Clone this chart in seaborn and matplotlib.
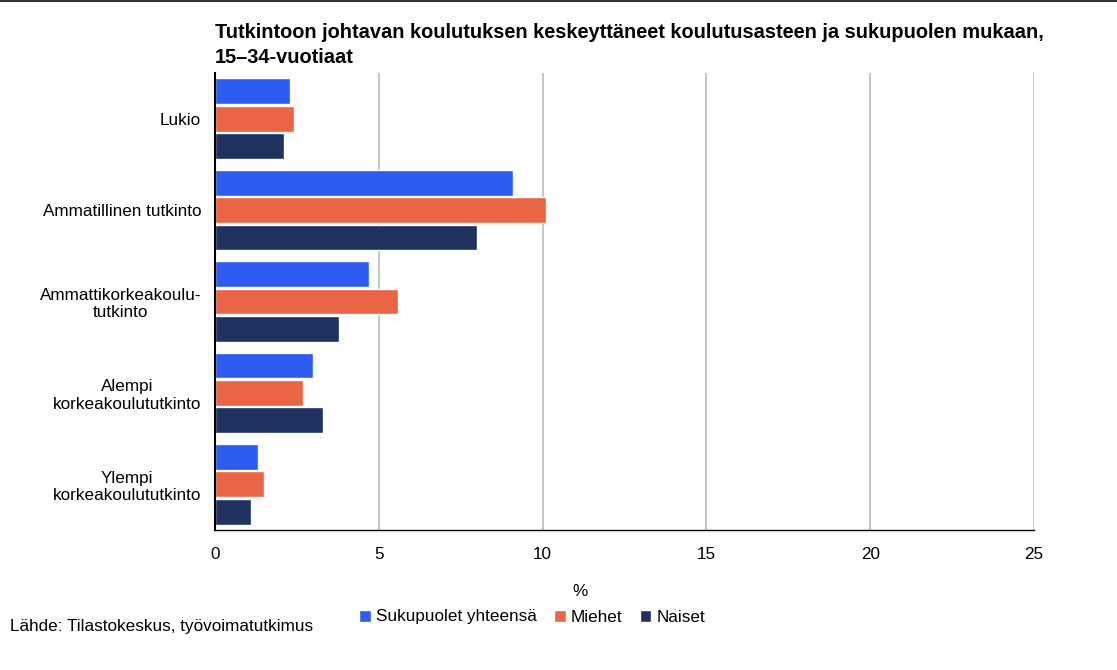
import pandas as pd
import numpy as np
import seaborn as sns
import matplotlib.pyplot as plt
from matplotlib.lines import Line2D

categories = ['Lukio', 'Ammatillinen tutkinto', 'Ammattikorkeakoulu-\ntutkinto',
              'Alempi\nkorkeakoulututkinto', 'Ylempi\nkorkeakoulututkinto']
series = ['Sukupuolet yhteensä', 'Miehet', 'Naiset']
total = [2.3, 9.1, 4.7, 3.0, 1.3]
men = [2.4, 10.1, 5.6, 2.7, 1.5]
women = [2.1, 8.0, 3.8, 3.3, 1.1]
colors = ['#2F5CF0', '#E96545', '#1F315F']

df = pd.DataFrame({'Koulutus': categories * 3,
                   'Sukupuoli': np.repeat(series, len(categories)),
                   'Osuus': total + men + women})

sns.set_theme(style='white')
plt.rcParams['font.family'] = ['Liberation Sans', 'DejaVu Sans']
plt.rcParams['text.color'] = 'black'

fig = plt.figure(figsize=(11.17, 6.70), dpi=100)
ax = fig.add_axes([215 / 1117, 1 - 530 / 670, (1034 - 215) / 1117, (530 - 73) / 670])

sns.barplot(data=df, y='Koulutus', x='Osuus', hue='Sukupuoli', order=categories,
            hue_order=series, palette=colors, saturation=1, width=0.9, gap=0.06,
            ax=ax, orient='h', legend=True)

ax.set_xlim(0, 25)
ax.set_xticks([0, 5, 10, 15, 20, 25])
ax.xaxis.grid(True, color='#bbbbbb', linewidth=1.2)
ax.set_axisbelow(True)
for s in ['top', 'right']:
    ax.spines[s].set_visible(False)
for s in ['left', 'bottom']:
    ax.spines[s].set_color('black')
ax.spines['left'].set_linewidth(1.5)
ax.spines['bottom'].set_linewidth(1.0)
ax.tick_params(axis='both', length=0, labelsize=12.3, colors='black')
ax.tick_params(axis='y', pad=10)
ax.tick_params(axis='x', pad=12)
ax.set_ylabel('')
ax.set_xlabel('%', fontsize=12.3, color='black')
ax.xaxis.set_label_coords((580 - 215) / (1034 - 215), -(584 - 530) / (530 - 73))

for lbl in ax.get_yticklabels():
    lbl.set_multialignment('center')

leg = ax.legend(loc='center', bbox_to_anchor=(532 / 1117, 1 - 617 / 670),
                bbox_transform=fig.transFigure, ncol=3, frameon=False, fontsize=12.3,
                handlelength=0.7, handleheight=0.7, handletextpad=0.3, columnspacing=1.0)
for t in leg.get_texts():
    t.set_color('black')

fig.text(215 / 1117, 1 - 45 / 670,
         'Tutkintoon johtavan koulutuksen keskeyttäneet koulutusasteen ja sukupuolen mukaan,\n15–34-vuotiaat',
         fontsize=14.4, fontweight='bold', ha='left', va='center', linespacing=1.35)
fig.text(10 / 1117, 1 - 626 / 670, 'Lähde: Tilastokeskus, työvoimatutkimus',
         fontsize=12.3, ha='left', va='center')
fig.add_artist(Line2D([0, 1], [0.999, 0.999], transform=fig.transFigure,
                      color='#333333', linewidth=1.5))

fig.savefig('out.png', dpi=100)
